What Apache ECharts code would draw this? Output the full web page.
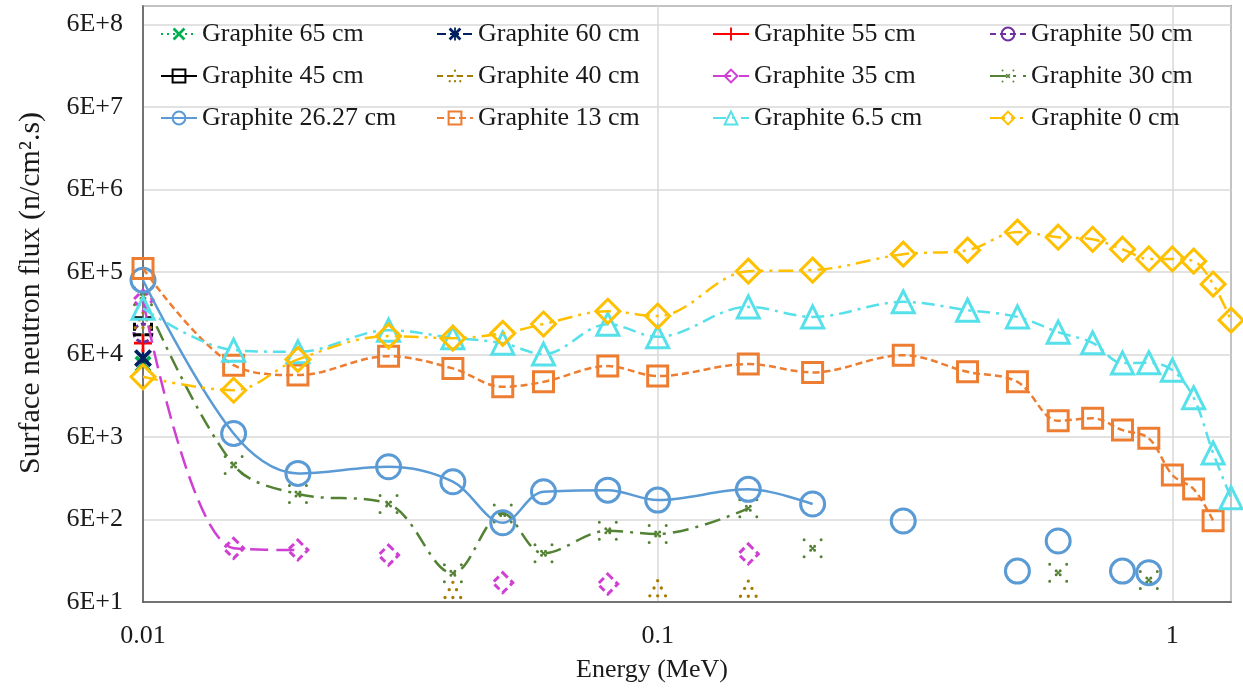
<!DOCTYPE html>
<html>
<head>
<meta charset="utf-8">
<title>Surface neutron flux vs energy</title>
<script src="https://cdn.jsdelivr.net/npm/echarts@6/dist/echarts.min.js"></script>
<style>
  html, body { margin: 0; padding: 0; background: #fff; }
  #chart { width: 1243px; height: 690px; }
</style>
</head>
<body>
<div id="chart"></div>
<script>
// Energy grid shared by every curve (MeV)
const energyMeV = [0.01, 0.015, 0.02, 0.03, 0.04, 0.05, 0.06, 0.08, 0.1, 0.15, 0.2,
                   0.3, 0.4, 0.5, 0.6, 0.7, 0.8, 0.9, 1, 1.1, 1.2, 1.3];

// Surface neutron flux (n/cm2.s), aligned with energyMeV; null = no value
const flux65cm = [45800];
const flux60cm = [54100];
const flux55cm = [82200];
const flux50cm = [109000];
const flux45cm = [132000];
const flux40cm = [156000, null, null, null, 84, null, null, null, 88, 87];
const flux35cm = [273000, 268, 256, 222, null, 103, null, 99, null, 229];
const flux30cm = [305000, 2740, 1220, 923, 134, 711, 233, 438, 400, 818, 268,
                  null, null, null, 136, null, null, 111];
const flux26cm = [476000, 6610, 2170, 2610, 1720, 548, 1300, 1360, 1030, 1390, 923,
                  574, null, 142, 329, null, 142, 136];
const flux13cm = [659000, 44500, 33700, 57200, 40600, 24300, 27900, 43300, 32800, 45800, 36300,
                  58800, 36900, 27900, 9420, 10100, 7270, 5770, 2070, 1400, 580];
const flux6cm  = [218000, 67600, 64500, 118000, 95300, 82200, 60500, 139600, 98000, 226000, 171000,
                  260000, 206000, 171000, 111700, 82900, 47100, 47500, 38700, 17900, 3830, 1100];
const flux0cm  = [32100, 22100, 52200, 100000, 94500, 108000, 140000, 200000, 175000, 612000, 630000,
                  984000, 1100000, 1820000, 1580000, 1490000, 1130000, 860000, 860000, 810000, 426000, 156000];

const seriesNames = ['Graphite 65 cm', 'Graphite 60 cm', 'Graphite 55 cm', 'Graphite 50 cm',
                     'Graphite 45 cm', 'Graphite 40 cm', 'Graphite 35 cm', 'Graphite 30 cm',
                     'Graphite 26.27 cm', 'Graphite 13 cm', 'Graphite 6.5 cm', 'Graphite 0 cm'];
const seriesFlux = [flux65cm, flux60cm, flux55cm, flux50cm, flux45cm, flux40cm,
                    flux35cm, flux30cm, flux26cm, flux13cm, flux6cm, flux0cm];
// Last energy reached by each connecting curve; later points stand alone
const joinedUpTo = [0.01, 0.01, 0.01, 0.01, 0.01, 0.01, 0.02, 0.15, 0.2, 1.2, 1.3, 1.3];

const fluxTickLabels = ['6E+1', '6E+2', '6E+3', '6E+4', '6E+5', '6E+6', '6E+7', '6E+8'];
const energyTickLabels = ['0.01', '0.1', '1'];

// ---- marker shapes ----
function dotPath(points, r) {
  return 'path://' + points.map(([x, y]) =>
    `M${x - r} ${y}a${r} ${r} 0 1 0 ${2 * r} 0a${r} ${r} 0 1 0 ${-2 * r} 0Z`).join('');
}
const CROSS_X = 'path://M0 3L3 0L20 17L17 20Z M17 0L20 3L3 20L0 17Z';
const STAR = 'path://M0 3L3 0L20 17L17 20Z M17 0L20 3L3 20L0 17Z M8.6 0H11.4V20H8.6Z';
const PLUS = 'path://M8.5 0H11.5V8.5H20V11.5H11.5V20H8.5V11.5H0V8.5H8.5Z';
const DOT_X = dotPath([[1.5, 1.5], [18.5, 1.5], [1.5, 18.5], [18.5, 18.5],
                       [8, 8], [12, 8], [8, 12], [12, 12], [10, 10]], 1.5);
const DOT_TRI = dotPath([[10, 1.5], [6.5, 8.5], [13.5, 8.5], [2.5, 16], [10, 16], [17.5, 16]], 1.6);

const FONT = '"Liberation Serif", "Times New Roman", serif';
const TEXT = '#1a1a1a';
const FS = 26;

// Drawing style per curve (same order as seriesNames)
const looks = [
  { color: '#00B050', dash: [2, 4],            symbol: CROSS_X, size: 17, solid: true },
  { color: '#002060', dash: [9, 4],            symbol: STAR,    size: 18, solid: true },
  { color: '#FF0000', dash: 'solid',           symbol: PLUS,    size: 18, solid: true },
  { color: '#7030A0', dash: [6, 4],            symbol: 'circle', size: 18, border: [5, 3] },
  { color: '#000000', dash: 'solid',           symbol: 'rect',   size: 17, border: [8, 3] },
  { color: '#A57C00', dash: [6, 4],            symbol: DOT_TRI, size: 19, solid: true },
  { color: '#CF3FD3', dash: [18, 8],           symbol: 'diamond', size: 20, border: [7, 4] },
  { color: '#548235', dash: [16, 7, 3, 7],     symbol: DOT_X,   size: 20, solid: true },
  { color: '#5B9BD5', dash: 'solid',           symbol: 'circle', size: 24 },
  { color: '#ED7D31', dash: [7, 4],            symbol: 'rect',   size: 20 },
  { color: '#56E0EA', dash: [13, 6, 3, 6],     symbol: 'triangle', size: 22 },
  { color: '#FFC000', dash: [15, 6, 3, 6, 3, 6], symbol: 'diamond', size: 24 }
];

function markerStyle(lk) {
  if (lk.solid) return { color: lk.color, borderWidth: 0, opacity: 1 };
  return { color: 'rgba(255,255,255,0)', borderColor: lk.color, borderWidth: 3,
           borderType: lk.border || 'solid', opacity: 1 };
}

const series = [];
seriesNames.forEach((name, k) => {
  const lk = looks[k];
  const joined = [], loose = [];
  energyMeV.forEach((e, i) => {
    const v = seriesFlux[k][i];
    if (v == null) return;
    (e <= joinedUpTo[k] + 1e-9 ? joined : loose).push([e, v]);
  });
  series.push({
    name, type: 'line', data: joined, smooth: 0.35,
    symbol: lk.symbol, symbolSize: lk.size, symbolKeepAspect: true,
    showSymbol: true,
    lineStyle: { color: lk.color, width: 2.5, type: lk.dash },
    itemStyle: markerStyle(lk),
    emphasis: { disabled: true },
    z: 2 + k * 0.01
  });
  if (loose.length) {
    series.push({
      name, type: 'scatter', data: loose,
      symbol: lk.symbol, symbolSize: lk.size, symbolKeepAspect: true,
      itemStyle: markerStyle(lk),
      emphasis: { disabled: true },
      z: 2 + k * 0.01
    });
  }
});

// legend: 4 columns of 3 entries, read row by row
const legendCols = [160, 436, 712, 989];
const legends = legendCols.map((x, c) => ({
  data: [0, 1, 2].map(r => seriesNames[r * 4 + c]),
  left: x, top: 20, padding: 0,
  orient: 'vertical',
  itemWidth: 36, itemHeight: 16, itemGap: 14,
  selectedMode: false,
  textStyle: { fontFamily: FONT, fontSize: FS, color: TEXT, lineHeight: 28 }
}));

const chart = echarts.init(document.getElementById('chart'), null, { renderer: 'canvas' });
chart.setOption({
  animation: false,
  backgroundColor: '#fff',
  grid: { left: 143, right: 12, top: 6, bottom: 88, show: true,
          borderColor: '#595959', borderWidth: 1.5 },
  legend: legends,
  xAxis: {
    type: 'log', logBase: 10, min: 0.01, max: 1.3,
    name: 'Energy (MeV)', nameLocation: 'middle', nameGap: 55,
    nameTextStyle: { fontFamily: FONT, fontSize: FS, color: TEXT, padding: [0, 70, 0, 0] },
    axisLine: { show: true, lineStyle: { color: '#595959', width: 1.5 } },
    axisTick: { show: false },
    minorTick: { show: false },
    splitLine: { show: true, lineStyle: { color: '#d9d9d9', width: 1.5 } },
    axisLabel: {
      fontFamily: FONT, fontSize: FS, color: TEXT, margin: 21,
      showMaxLabel: false,
      formatter: v => {
        const p = Math.log10(v);
        if (Math.abs(p - Math.round(p)) > 1e-6) return '';
        return energyTickLabels[Math.round(p) + 2] || '';
      }
    }
  },
  yAxis: [
    {
      // data axis: logarithmic flux
      type: 'log', logBase: 10, min: 60, max: 1e9,
      axisLine: { show: false }, axisTick: { show: false },
      axisLabel: { show: false }, splitLine: { show: false }
    },
    {
      // decade ruler: one step per factor of ten above 6E+1
      type: 'value', position: 'left', min: 0, max: Math.log10(1e9 / 60), interval: 1,
      name: 'Surface neutron flux (n/cm\u00B2.s)', nameLocation: 'middle', nameGap: 97,
      nameRotate: 90,
      nameTextStyle: { fontFamily: FONT, fontSize: 30, color: TEXT, padding: [0, 0, 0, 22] },
      axisLine: { show: true, lineStyle: { color: '#595959', width: 1.5 } },
      axisTick: { show: false },
      splitLine: { show: true, lineStyle: { color: '#d9d9d9', width: 1.5 } },
      axisLabel: {
        fontFamily: FONT, fontSize: FS, color: TEXT, margin: 20,
        formatter: v => (Math.abs(v - Math.round(v)) < 1e-6 ? (fluxTickLabels[Math.round(v)] || '') : '')
      }
    }
  ],
  series
});
</script>
</body>
</html>
